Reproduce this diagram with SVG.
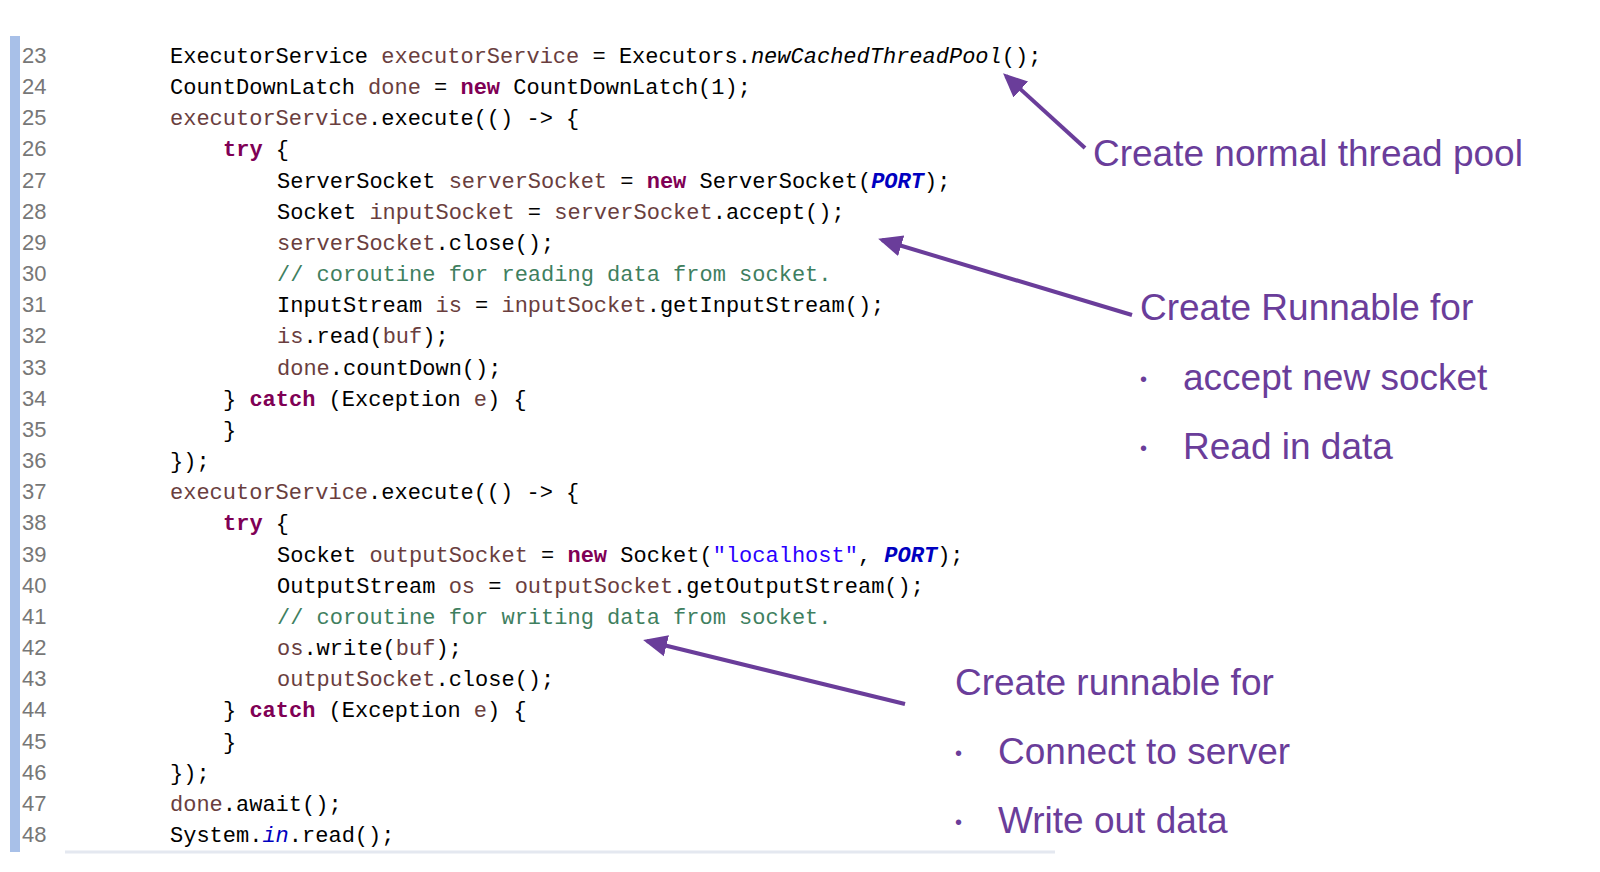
<svg xmlns="http://www.w3.org/2000/svg" width="1600" height="872" viewBox="0 0 1600 872">
<style>
.c{font-family:"Liberation Mono","DejaVu Sans Mono",monospace;font-size:22px;fill:#000;white-space:pre}
.n{font-family:"Liberation Sans",Arial,sans-serif;font-size:22px;fill:#777}
.v{fill:#6a3e3e}.k{fill:#7f0055;font-weight:bold}.cm{fill:#3f7f5f}.cs{fill:#0000c0;font-style:italic;font-weight:bold}.s{fill:#2a00ff}.i{font-style:italic}
.a{font-family:"Liberation Sans",Arial,sans-serif;font-size:37px;fill:#6a3d9a}
.b{font-family:"Liberation Sans",Arial,sans-serif;font-size:20px;fill:#6a3d9a}
.ar{stroke:#6a3d9a;stroke-width:4;fill:none}
</style>
<defs><marker id="h" markerWidth="6" markerHeight="6" refX="5" refY="3" orient="auto" markerUnits="strokeWidth"><path d="M0,0.3L6,3L0,5.7z" fill="#6a3d9a"/></marker></defs>
<rect width="1600" height="872" fill="#fff"/>
<g id="gutter">
<rect x="10" y="36" width="10" height="816" fill="#a8c0e8"/>
<line x1="65" y1="852" x2="1055" y2="852" stroke="#e4e8f0" stroke-width="3"/>
<g class="n">
<text x="22" y="63">23</text><text x="22" y="94">24</text><text x="22" y="125">25</text><text x="22" y="156">26</text><text x="22" y="188">27</text><text x="22" y="219">28</text><text x="22" y="250">29</text><text x="22" y="281">30</text><text x="22" y="312">31</text><text x="22" y="343">32</text><text x="22" y="375">33</text><text x="22" y="406">34</text><text x="22" y="437">35</text><text x="22" y="468">36</text><text x="22" y="499">37</text><text x="22" y="530">38</text><text x="22" y="562">39</text><text x="22" y="593">40</text><text x="22" y="624">41</text><text x="22" y="655">42</text><text x="22" y="686">43</text><text x="22" y="717">44</text><text x="22" y="749">45</text><text x="22" y="780">46</text><text x="22" y="811">47</text><text x="22" y="842">48</text>
</g></g>
<g id="code" class="c">
<text x="170" y="63">ExecutorService <tspan class="v">executorService</tspan> = Executors.<tspan class="i">newCachedThreadPool</tspan>();</text>
<text x="170" y="94">CountDownLatch <tspan class="v">done</tspan> = <tspan class="k">new</tspan> CountDownLatch(1);</text>
<text x="170" y="125"><tspan class="v">executorService</tspan>.execute(() -&gt; {</text>
<text x="223" y="156"><tspan class="k">try</tspan> {</text>
<text x="277" y="188">ServerSocket <tspan class="v">serverSocket</tspan> = <tspan class="k">new</tspan> ServerSocket(<tspan class="cs">PORT</tspan>);</text>
<text x="277" y="219">Socket <tspan class="v">inputSocket</tspan> = <tspan class="v">serverSocket</tspan>.accept();</text>
<text x="277" y="250"><tspan class="v">serverSocket</tspan>.close();</text>
<text x="277" y="281" class="cm">// coroutine for reading data from socket.</text>
<text x="277" y="312">InputStream <tspan class="v">is</tspan> = <tspan class="v">inputSocket</tspan>.getInputStream();</text>
<text x="277" y="343"><tspan class="v">is</tspan>.read(<tspan class="v">buf</tspan>);</text>
<text x="277" y="375"><tspan class="v">done</tspan>.countDown();</text>
<text x="223" y="406">} <tspan class="k">catch</tspan> (Exception <tspan class="v">e</tspan>) {</text>
<text x="223" y="437">}</text>
<text x="170" y="468">});</text>
<text x="170" y="499"><tspan class="v">executorService</tspan>.execute(() -&gt; {</text>
<text x="223" y="530"><tspan class="k">try</tspan> {</text>
<text x="277" y="562">Socket <tspan class="v">outputSocket</tspan> = <tspan class="k">new</tspan> Socket(<tspan class="s">"localhost"</tspan>, <tspan class="cs">PORT</tspan>);</text>
<text x="277" y="593">OutputStream <tspan class="v">os</tspan> = <tspan class="v">outputSocket</tspan>.getOutputStream();</text>
<text x="277" y="624" class="cm">// coroutine for writing data from socket.</text>
<text x="277" y="655"><tspan class="v">os</tspan>.write(<tspan class="v">buf</tspan>);</text>
<text x="277" y="686"><tspan class="v">outputSocket</tspan>.close();</text>
<text x="223" y="717">} <tspan class="k">catch</tspan> (Exception <tspan class="v">e</tspan>) {</text>
<text x="223" y="749">}</text>
<text x="170" y="780">});</text>
<text x="170" y="811"><tspan class="v">done</tspan>.await();</text>
<text x="170" y="842">System.<tspan class="cs" style="font-weight:normal">in</tspan>.read();</text>
</g>
<g id="connectors">
<line class="ar" x1="1085" y1="148" x2="1006" y2="76" marker-end="url(#h)"/>
<line class="ar" x1="1132" y1="315" x2="882" y2="240" marker-end="url(#h)"/>
<line class="ar" x1="905" y1="704" x2="647" y2="641" marker-end="url(#h)"/>
</g>
<g id="note1"><text class="a" x="1093" y="166">Create normal thread pool</text></g>
<g id="note2">
<text class="a" x="1140" y="320">Create Runnable for</text>
<text class="b" x="1140" y="386">•</text><text class="a" x="1183" y="390">accept new socket</text>
<text class="b" x="1140" y="455">•</text><text class="a" x="1183" y="459">Read in data</text>
</g>
<g id="note3">
<text class="a" x="955" y="695">Create runnable for</text>
<text class="b" x="955" y="760">•</text><text class="a" x="998" y="764">Connect to server</text>
<text class="b" x="955" y="829">•</text><text class="a" x="998" y="833">Write out data</text>
</g>
</svg>
